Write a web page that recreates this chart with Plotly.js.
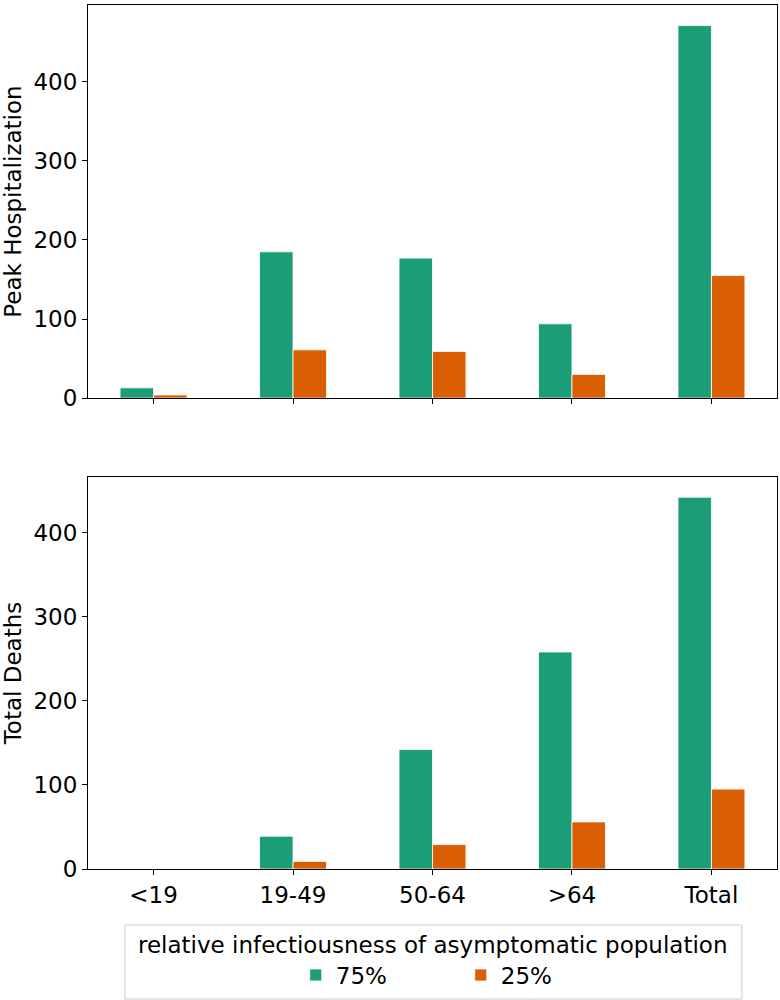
<!DOCTYPE html>
<html>
<head>
<meta charset="utf-8">
<script src="https://cdn.plot.ly/plotly-3.0.1.min.js"></script>
<style>
  html, body { margin: 0; padding: 0; background: #fff; }
  #chart { width: 780px; height: 1000px; }
</style>
</head>
<body>
<div id="chart"></div>
<script>
// age groups along x, shared by both panels
const ageGroups = ["<19", "19-49", "50-64", ">64", "Total"];

// peak hospitalization (top panel)
const hosp75 = [13, 185, 177, 94, 471];
const hosp25 = [4, 61, 59, 30, 155];

// total deaths (bottom panel)
const deaths75 = [0, 39, 142, 258, 442];
const deaths25 = [0, 9, 29, 56, 95];

const seriesNames = ["75%", "25%"];
const legendTitle = "relative infectiousness of asymptomatic population";
const green = "#1b9e77";
const orange = "#d95f02";

function bar(y, name, color, axes, showlegend) {
  return {
    type: "bar",
    x: ageGroups,
    y: y,
    name: name,
    legendgroup: name,
    showlegend: showlegend,
    xaxis: axes[0],
    yaxis: axes[1],
    marker: { color: color, line: { color: "rgba(255,255,255,0.8)", width: 1 } },
    hoverinfo: "x+y+name",
  };
}

const traces = [
  bar(hosp75, seriesNames[0], green, ["x", "y"], true),
  bar(hosp25, seriesNames[1], orange, ["x", "y"], true),
  bar(deaths75, seriesNames[0], green, ["x2", "y2"], false),
  bar(deaths25, seriesNames[1], orange, ["x2", "y2"], false),
];

const axisFont = { family: "DejaVu Sans", size: 23, color: "#000" };

const xCommon = {
  type: "category",
  range: [-0.47, 4.47],
  showline: true,
  mirror: true,
  linecolor: "#000",
  linewidth: 1,
  ticks: "outside",
  ticklen: 5,
  tickcolor: "#000",
  showgrid: false,
  zeroline: false,
  tickfont: axisFont,
};

const yCommon = {
  showline: true,
  mirror: true,
  linecolor: "#000",
  linewidth: 1,
  ticks: "outside",
  ticklen: 5,
  tickcolor: "#000",
  showgrid: false,
  zeroline: false,
  dtick: 100,
  tickfont: axisFont,
};

const layout = {
  width: 780,
  height: 1000,
  margin: { l: 88, r: 3, t: 5, b: 131 },
  paper_bgcolor: "#fff",
  plot_bgcolor: "#fff",
  font: { family: "DejaVu Sans", color: "#000", size: 23 },
  barmode: "group",
  bargap: 0.52,
  bargroupgap: 0,
  xaxis: Object.assign({}, xCommon, { domain: [0, 1], anchor: "y", showticklabels: false }),
  yaxis: Object.assign({}, yCommon, {
    domain: [0.545, 1],
    anchor: "x",
    range: [0, 497],
    title: { text: "Peak Hospitalization", font: axisFont, standoff: 6 },
  }),
  xaxis2: Object.assign({}, xCommon, { domain: [0, 1], anchor: "y2" }),
  yaxis2: Object.assign({}, yCommon, {
    domain: [0, 0.4537],
    anchor: "x2",
    range: [0, 466],
    title: { text: "Total Deaths", font: axisFont, standoff: 6 },
  }),
  // legend frame and title drawn separately so the entries can sit centred under the title
  shapes: [{
    type: "rect", xref: "paper", yref: "paper",
    x0: 0.0537, x1: 0.949, y0: -0.0648, y1: -0.1505,
    line: { color: "#cccccc", width: 1 },
    fillcolor: "#fff",
    layer: "below",
  }],
  annotations: [{
    text: legendTitle,
    xref: "paper", yref: "paper",
    x: 0.5, y: -0.088,
    xanchor: "center", yanchor: "middle",
    showarrow: false,
    font: axisFont,
  }],
  legend: {
    orientation: "h",
    x: 0.541,
    xanchor: "center",
    y: -0.1227,
    yanchor: "middle",
    bgcolor: "rgba(0,0,0,0)",
    borderwidth: 0,
    font: axisFont,
    entrywidth: 120,
    entrywidthmode: "pixels",
    traceorder: "normal",
  },
};

Plotly.newPlot("chart", traces, layout, { displayModeBar: false, staticPlot: true });
</script>
</body>
</html>
